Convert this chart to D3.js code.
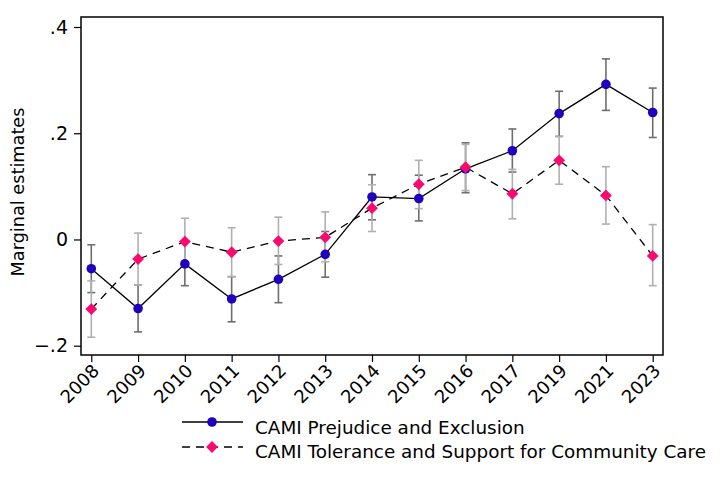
<!DOCTYPE html>
<html>
<head>
<meta charset="utf-8">
<script src="https://cdn.jsdelivr.net/npm/d3@7"></script>
<style>
body { margin: 0; background: #fff; }
text { font-family: "DejaVu Sans", sans-serif; fill: #000; }
</style>
</head>
<body>
<div id="graph"></div>
<script>
// years on the x axis (categorical, 2018/2020/2022 missing)
var years = ["2008","2009","2010","2011","2012","2013","2014","2015","2016","2017","2019","2021","2023"];

// CAMI Prejudice and Exclusion
var prejEst = [-0.055, -0.130, -0.046, -0.112, -0.075, -0.028, 0.080, 0.077, 0.133, 0.167, 0.237, 0.292, 0.239];
var prejLo  = [-0.100, -0.174, -0.087, -0.155, -0.119, -0.071, 0.037, 0.035, 0.088, 0.127, 0.194, 0.243, 0.192];
var prejHi  = [-0.010, -0.086, -0.005, -0.070, -0.031, 0.015, 0.122, 0.121, 0.182, 0.208, 0.279, 0.340, 0.285];

// CAMI Tolerance and Support for Community Care
var tolEst = [-0.131, -0.037, -0.004, -0.024, -0.003, 0.004, 0.059, 0.104, 0.136, 0.086, 0.149, 0.083, -0.031];
var tolLo  = [-0.184, -0.086, -0.049, -0.070, -0.047, -0.042, 0.015, 0.058, 0.092, 0.039, 0.104, 0.029, -0.087];
var tolHi  = [-0.078, 0.012, 0.040, 0.022, 0.042, 0.052, 0.103, 0.149, 0.179, 0.132, 0.194, 0.137, 0.028];

var yTicks = [-0.2, 0, 0.2, 0.4];
var seriesNames = ["CAMI Prejudice and Exclusion", "CAMI Tolerance and Support for Community Care"];

var svgWidth = 720, svgHeight = 484;
var plot = {left: 81, top: 17, right: 663, bottom: 355};

var blue = "#1f00bf";
var pink = "#fa0a6e";
var dotR = 4.8;

var $svg = d3.select("#graph").append("svg")
    .attr("width", svgWidth)
    .attr("height", svgHeight);

var x = d3.scalePoint()
    .domain(years)
    .range([plot.left, plot.right])
    .padding(0.22);

var y = d3.scaleLinear()
    .domain([-0.2, 0.4])
    .range([345.7, 27]);

// frame
$svg.append("rect")
    .attr("x", plot.left).attr("y", plot.top)
    .attr("width", plot.right - plot.left)
    .attr("height", plot.bottom - plot.top)
    .attr("fill", "none").attr("stroke", "#000").attr("stroke-width", 1.5);

// y axis
var yAxis = d3.axisLeft(y)
    .tickValues(yTicks)
    .tickSize(7)
    .tickPadding(6)
    .tickFormat(d => d == 0 ? "0" : d3.format(".1f")(d).replace("0.", "."));
var $ya = $svg.append("g")
    .attr("transform", `translate(${plot.left},0)`)
    .call(yAxis);
$ya.select(".domain").remove();
$ya.selectAll("line").attr("stroke", "#000").attr("stroke-width", 1.2);
$ya.selectAll("text").attr("font-size", 19).attr("font-family", "DejaVu Sans").attr("fill", "#000");

// x axis
var xAxis = d3.axisBottom(x).tickSize(7);
var $xa = $svg.append("g")
    .attr("transform", `translate(0,${plot.bottom})`)
    .call(xAxis);
$xa.select(".domain").remove();
$xa.selectAll("line").attr("stroke", "#000").attr("stroke-width", 1.2);
$xa.selectAll("text")
    .attr("font-size", 18).attr("font-family", "DejaVu Sans").attr("fill", "#000")
    .attr("text-anchor", "end")
    .attr("y", 0)
    .attr("dy", 0)
    .attr("transform", "translate(8.5,17) rotate(-45)");

// y title
$svg.append("text")
    .attr("transform", "translate(24,192) rotate(-90)")
    .attr("text-anchor", "middle")
    .attr("font-size", 17.7)
    .text("Marginal estimates");

function drawCI(lo, hi, color){
    var g = $svg.append("g").attr("stroke", color).attr("stroke-width", 1.6).attr("fill", "none");
    years.forEach((yr, i) => {
        var cx = x(yr);
        g.append("line").attr("x1", cx).attr("x2", cx).attr("y1", y(lo[i])).attr("y2", y(hi[i]));
        g.append("line").attr("x1", cx - 4).attr("x2", cx + 4).attr("y1", y(lo[i])).attr("y2", y(lo[i]));
        g.append("line").attr("x1", cx - 4).attr("x2", cx + 4).attr("y1", y(hi[i])).attr("y2", y(hi[i]));
    });
}
drawCI(prejLo, prejHi, "#6e6e6e");
drawCI(tolLo, tolHi, "#b0b0b0");

var line = d3.line().x(d => x(d[0])).y(d => y(d[1]));

$svg.append("path")
    .attr("d", line(years.map((yr, i) => [yr, prejEst[i]])))
    .attr("fill", "none").attr("stroke", "#000").attr("stroke-width", 1.3);
$svg.append("path")
    .attr("d", line(years.map((yr, i) => [yr, tolEst[i]])))
    .attr("fill", "none").attr("stroke", "#000").attr("stroke-width", 1.3)
    .attr("stroke-dasharray", "8,6");

var diamond = d3.symbol().type(d3.symbolSquare).size(70);

$svg.selectAll(".dot-prej")
    .data(prejEst)
    .join("circle")
    .attr("cx", (d, i) => x(years[i]))
    .attr("cy", d => y(d))
    .attr("r", dotR)
    .attr("fill", blue);

$svg.selectAll(".dot-tol")
    .data(tolEst)
    .join("path")
    .attr("d", diamond)
    .attr("transform", (d, i) => `translate(${x(years[i])},${y(d)}) rotate(45)`)
    .attr("fill", pink);

// legend
var $leg = $svg.append("g");
$leg.append("line").attr("x1", 182).attr("x2", 243).attr("y1", 422).attr("y2", 422)
    .attr("stroke", "#000").attr("stroke-width", 1.3);
$leg.append("circle").attr("cx", 212).attr("cy", 422).attr("r", dotR).attr("fill", blue);
$leg.append("line").attr("x1", 182).attr("x2", 243).attr("y1", 447).attr("y2", 447)
    .attr("stroke", "#000").attr("stroke-width", 1.3).attr("stroke-dasharray", "8,6");
$leg.append("path").attr("d", diamond).attr("transform", "translate(212,447) rotate(45)").attr("fill", pink);
$leg.selectAll(".leg-text")
    .data(seriesNames)
    .join("text")
    .attr("x", 255)
    .attr("y", (d, i) => 433.5 + i * 24.5)
    .attr("font-size", 18.4)
    .text(d => d);
</script>
</body>
</html>
